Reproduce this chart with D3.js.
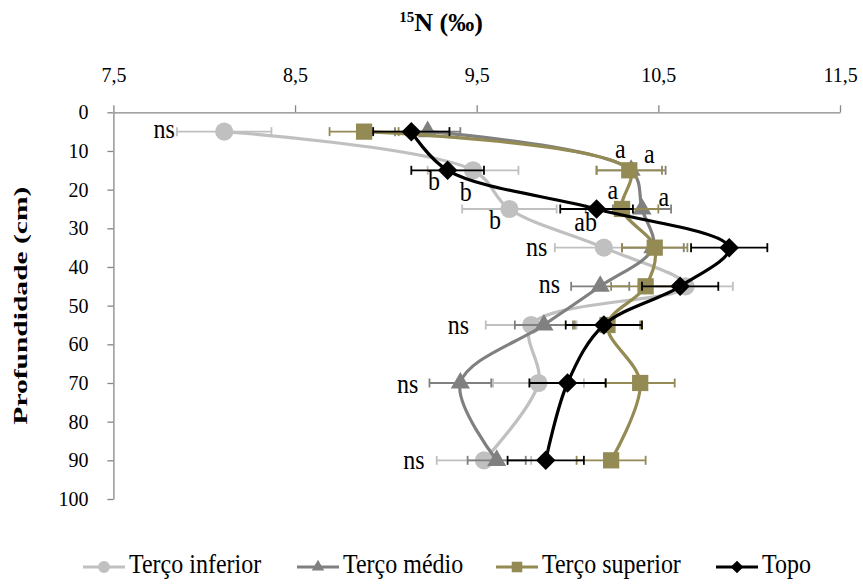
<!DOCTYPE html>
<html>
<head>
<meta charset="utf-8">
<script src="https://cdn.jsdelivr.net/npm/d3@7"></script>
<style>
  body { margin: 0; background: #fff; }
  text { font-family: "Liberation Serif", "Times New Roman", serif; }
</style>
</head>
<body>
<svg id="chart" width="863" height="584"></svg>
<script>
// Soil depth (cm) of each sampling layer
const depths = [5, 15, 25, 35, 45, 55, 70, 90];

// δ15N (‰) means and standard errors per slope position
const tercoInferior    = [8.11, 9.48, 9.68, 10.20, 10.65, 9.80, 9.84, 9.54];
const tercoInferiorErr = [0.26, 0.25, 0.26, 0.27, 0.26, 0.25, 0.25, 0.26];
const tercoMedio       = [9.23, 10.35, 10.41, 10.47, 10.18, 9.87, 9.41, 9.61];
const tercoMedioErr    = [0.18, 0.19, 0.16, 0.17, 0.16, 0.16, 0.17, 0.16];
const tercoSuperior    = [8.88, 10.34, 10.30, 10.48, 10.43, 10.22, 10.40, 10.24];
const tercoSuperiorErr = [0.19, 0.18, 0.20, 0.18, 0.19, 0.18, 0.19, 0.19];
const topo             = [9.14, 9.34, 10.16, 10.89, 10.62, 10.20, 10.00, 9.88];
const topoErr          = [0.21, 0.20, 0.20, 0.21, 0.21, 0.21, 0.21, 0.21];

const seriesNames = ["Terço inferior", "Terço médio", "Terço superior", "Topo"];

// Axis ticks
const xTicks = [7.5, 8.5, 9.5, 10.5, 11.5];
const yTicks = [0, 10, 20, 30, 40, 50, 60, 70, 80, 90, 100];

// Significance letters: text, δ15N position, depth position
const annText  = ["ns", "b", "b", "b", "a", "a", "a", "a", "ab", "ns", "ns", "ns", "ns", "ns"];
const annValue = [7.78, 9.265, 9.44, 9.60, 10.29, 10.45, 10.25, 10.53, 10.10, 9.83, 9.90, 9.40, 9.12, 9.155];
const annDepth = [5, 18.6, 21.3, 28.6, 10.2, 11.5, 20.8, 22.6, 29.0, 35.6, 45.2, 55.8, 71.0, 90.7];

// ---- build series table ----
const series = [
  { name: seriesNames[0], values: tercoInferior, errs: tercoInferiorErr, color: "#C0C0C0", shape: "circle" },
  { name: seriesNames[1], values: tercoMedio,    errs: tercoMedioErr,    color: "#808080", shape: "triangle" },
  { name: seriesNames[2], values: tercoSuperior, errs: tercoSuperiorErr, color: "#948A54", shape: "square" },
  { name: seriesNames[3], values: topo,          errs: topoErr,          color: "#000000", shape: "diamond" }
];

const svg = d3.select("#chart");
const x = d3.scaleLinear().domain([7.5, 11.5]).range([113.4, 840]);
const y = d3.scaleLinear().domain([0, 100]).range([112.3, 499]);
const fmt = d => d3.format(".1f")(d).replace(".", ",");
const STRETCH = 1.12; // text is drawn slightly taller than wide

// ---- axes ----
const xAxis = svg.append("g")
  .attr("transform", `translate(0,${y(0)})`)
  .call(d3.axisTop(x).tickValues(xTicks).tickFormat(fmt).tickSize(7).tickSizeOuter(0).tickPadding(23));
const yAxis = svg.append("g")
  .attr("transform", `translate(${x(7.5)},0)`)
  .call(d3.axisLeft(y).tickValues(yTicks).tickSize(6).tickSizeOuter(0).tickPadding(19));
[xAxis, yAxis].forEach(g => {
  g.select(".domain").attr("stroke", "#868686").attr("stroke-width", 1.3);
  g.selectAll(".tick line").attr("stroke", "#868686").attr("stroke-width", 1.3);
  g.selectAll(".tick text").attr("fill", "#000").style("font-size", "20px")
    .style("font-family", "'Liberation Serif', 'Times New Roman', serif");
});

// ---- axis titles ----
const title = svg.append("text")
  .attr("x", 441).attr("y", 31)
  .attr("text-anchor", "middle")
  .style("font-size", "26px").style("font-weight", "bold");
title.append("tspan").attr("font-size", "15px").attr("dy", "-9").text("15");
title.append("tspan").attr("dy", "9").text("N (‰)");

svg.append("text")
  .attr("transform", `translate(27,${(y(0) + y(100)) / 2}) rotate(-90)`)
  .attr("text-anchor", "middle")
  .attr("textLength", 238).attr("lengthAdjust", "spacingAndGlyphs")
  .style("font-size", "19px").style("font-weight", "bold")
  .text("Profundidade (cm)");

// ---- marker helper ----
function marker(g, shape, color, scale) {
  let p;
  if (shape === "circle") p = d3.symbol(d3.symbolCircle, 260 * scale * scale);
  else if (shape === "triangle") p = d3.symbol(d3.symbolTriangle, 160 * scale * scale);
  else if (shape === "square") p = d3.symbol(d3.symbolSquare, 264 * scale * scale);
  else p = d3.symbol(d3.symbolSquare, 190 * scale * scale);
  const path = g.append("path").attr("d", p()).attr("fill", color);
  if (shape === "diamond") path.attr("transform", "rotate(45)");
  return path;
}

// ---- series: error bars, smoothed line, markers ----
const line = d3.line()
  .x(d => x(d.v))
  .y(d => y(d.d))
  .curve(d3.curveCatmullRom.alpha(0.5));

series.forEach(s => {
  const pts = s.values.map((v, i) => ({ v, d: depths[i], e: s.errs[i] }));
  const g = svg.append("g");
  const eb = g.append("g").attr("stroke", s.color).attr("stroke-width", 1.8).attr("fill", "none");
  pts.forEach(p => {
    const yy = y(p.d), x0 = x(p.v - p.e), x1 = x(p.v + p.e);
    eb.append("line").attr("x1", x0).attr("x2", x1).attr("y1", yy).attr("y2", yy);
    eb.append("line").attr("x1", x0).attr("x2", x0).attr("y1", yy - 4.5).attr("y2", yy + 4.5);
    eb.append("line").attr("x1", x1).attr("x2", x1).attr("y1", yy - 4.5).attr("y2", yy + 4.5);
  });
  g.append("path").datum(pts).attr("d", line)
    .attr("fill", "none").attr("stroke", s.color).attr("stroke-width", 3.2);
  pts.forEach(p => {
    const m = g.append("g").attr("transform", `translate(${x(p.v)},${y(p.d)})`);
    marker(m, s.shape, s.color, 1);
  });
});

// ---- significance letters ----
svg.append("g").selectAll("text")
  .data(annText.map((t, i) => ({ t, v: annValue[i], d: annDepth[i] })))
  .join("text")
  .attr("transform", d => `translate(${x(d.v)},${y(d.d)}) scale(1,${STRETCH})`)
  .attr("text-anchor", "middle")
  .attr("dominant-baseline", "middle")
  .style("font-size", "24px")
  .text(d => d.t);

// ---- legend ----
const legendX = [104, 318, 517, 737];
const legend = svg.append("g").attr("transform", "translate(0,567)");
series.forEach((s, i) => {
  const g = legend.append("g").attr("transform", `translate(${legendX[i]},0)`);
  g.append("line").attr("x1", -21).attr("x2", 21).attr("y1", 0).attr("y2", 0)
    .attr("stroke", s.color).attr("stroke-width", 3.2);
  marker(g, s.shape, s.color, 0.65);
  g.append("text")
    .attr("transform", `translate(25,0) scale(1,${STRETCH})`)
    .attr("dominant-baseline", "middle")
    .style("font-size", "24px")
    .text(s.name);
});
</script>
</body>
</html>
